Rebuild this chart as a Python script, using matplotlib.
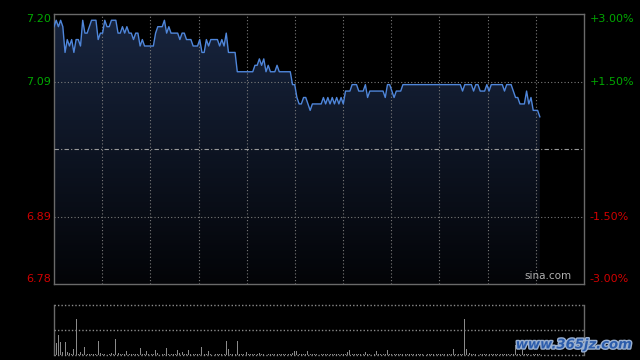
import numpy as np
import matplotlib.pyplot as plt
from matplotlib.colors import LinearSegmentedColormap
import matplotlib.patheffects as pe
import matplotlib.transforms as mtransforms

# intraday prices, one per minute
price = [7.18, 7.19, 7.18, 7.19, 7.18, 7.14, 7.16, 7.15, 7.16, 7.14,
         7.16, 7.16, 7.15, 7.19, 7.17, 7.17, 7.18, 7.19, 7.19, 7.19,
         7.16, 7.17, 7.17, 7.19, 7.18, 7.18, 7.19, 7.19, 7.19, 7.17,
         7.17, 7.18, 7.17, 7.18, 7.17, 7.17, 7.16, 7.17, 7.17, 7.15,
         7.16, 7.15, 7.15, 7.15, 7.15, 7.15, 7.17, 7.18, 7.18, 7.18,
         7.19, 7.17, 7.18, 7.17, 7.17, 7.17, 7.17, 7.16, 7.17, 7.17,
         7.16, 7.16, 7.16, 7.15, 7.15, 7.15, 7.16, 7.14, 7.14, 7.16,
         7.15, 7.16, 7.16, 7.16, 7.16, 7.15, 7.16, 7.15, 7.17, 7.14,
         7.14, 7.14, 7.14, 7.11, 7.11, 7.11, 7.11, 7.11, 7.11, 7.11,
         7.11, 7.12, 7.12, 7.13, 7.12, 7.13, 7.11, 7.12, 7.11, 7.11,
         7.11, 7.12, 7.11, 7.11, 7.11, 7.11, 7.11, 7.11, 7.09, 7.09,
         7.07, 7.06, 7.06, 7.07, 7.07, 7.06, 7.05, 7.06, 7.06, 7.06,
         7.06, 7.06, 7.07, 7.06, 7.07, 7.06, 7.07, 7.06, 7.07, 7.06,
         7.07, 7.06, 7.08, 7.08, 7.08, 7.09, 7.09, 7.09, 7.08, 7.08,
         7.08, 7.09, 7.07, 7.08, 7.08, 7.08, 7.08, 7.08, 7.08, 7.08,
         7.07, 7.09, 7.09, 7.08, 7.07, 7.08, 7.08, 7.08, 7.09, 7.09,
         7.09, 7.09, 7.09, 7.09, 7.09, 7.09, 7.09, 7.09, 7.09, 7.09,
         7.09, 7.09, 7.09, 7.09, 7.09, 7.09, 7.09, 7.09, 7.09, 7.09,
         7.09, 7.09, 7.09, 7.09, 7.09, 7.08, 7.09, 7.09, 7.09, 7.09,
         7.08, 7.09, 7.09, 7.08, 7.08, 7.08, 7.09, 7.08, 7.09, 7.09,
         7.09, 7.09, 7.09, 7.09, 7.08, 7.09, 7.09, 7.09, 7.08, 7.07,
         7.07, 7.06, 7.06, 7.06, 7.08, 7.06, 7.07, 7.05, 7.05, 7.05,
         7.04]

volume = [100, 25, 40, 27, 6, 27, 7, 5, 3, 12,
          72, 3, 7, 3, 17, 3, 2, 3, 2, 3,
          29, 4, 2, 3, 2, 3, 4, 2, 32, 4,
          3, 2, 3, 9, 2, 3, 2, 3, 2, 15,
          3, 2, 8, 3, 2, 3, 10, 4, 7, 3,
          2, 15, 3, 2, 3, 2, 10, 4, 6, 3,
          2, 10, 3, 2, 3, 2, 3, 17, 3, 2,
          8, 3, 2, 3, 2, 3, 2, 3, 29, 12,
          3, 2, 3, 29, 3, 2, 3, 7, 2, 3,
          2, 3, 2, 4, 2, 3, 2, 3, 2, 3,
          2, 3, 2, 3, 2, 3, 2, 3, 4, 9,
          9, 3, 2, 3, 2, 9, 3, 2, 3, 2,
          3, 2, 3, 2, 3, 2, 3, 2, 3, 2,
          3, 2, 3, 7, 10, 3, 2, 3, 2, 3,
          2, 6, 3, 2, 3, 2, 8, 3, 2, 3,
          2, 10, 3, 2, 3, 2, 3, 2, 3, 2,
          3, 2, 3, 2, 3, 2, 3, 2, 3, 2,
          3, 2, 3, 2, 3, 2, 3, 2, 3, 2,
          3, 12, 3, 2, 3, 2, 73, 13, 4, 2,
          3, 2, 3, 2, 3, 2, 3, 2, 3, 2,
          3, 2, 3, 2, 3, 2, 3, 2, 3, 20,
          3, 2, 10, 3, 2, 3, 2, 3, 2, 3,
          2]

prev_close = 6.99
left_labels = ['7.20', '7.09', '6.89', '6.78']
right_labels = ['+3.00%', '+1.50%', '-1.50%', '-3.00%']
pct_levels = [0.03, 0.015, -0.015, -0.03]

n_slots = 240
x = np.arange(len(price))
ymax = prev_close * 1.03
ymin = prev_close * 0.97

fig = plt.figure(figsize=(6.4, 3.6), dpi=100, facecolor='black')
ax = fig.add_axes([54 / 640, 1 - 284 / 360, 530 / 640, 270 / 360])
ax.set_facecolor('black')

# gradient fill under the price line
poly = ax.fill_between(x, price, ymin, color='none', lw=0)
cmap = LinearSegmentedColormap.from_list('g', ['#030407', '#18253f'])
grad = np.linspace(0, 1, 256).reshape(-1, 1)
im = ax.imshow(grad, extent=[0, n_slots, ymin, ymax], origin='lower',
               aspect='auto', cmap=cmap, zorder=1)
im.set_clip_path(poly.get_paths()[0], transform=ax.transData)

ax.plot(x, price, color='#4f86da', lw=1.0, zorder=4)

# grid
for k in range(1, 11):
    ax.axvline(n_slots * k / 11, color='#7a7a7a', lw=0.8, ls=(0, (1, 2)), zorder=3)
for p in [0.015, -0.015]:
    ax.axhline(prev_close * (1 + p), color='#7a7a7a', lw=0.8, ls=(0, (1, 2)), zorder=3)
ax.axhline(prev_close, color='#9a9a9a', lw=0.8, ls=(0, (4, 2, 1, 2)), zorder=3)

ax.set_xlim(0, n_slots)
ax.set_ylim(ymin, ymax)
ax.set_xticks([])
ax.set_yticks([])
for s in ax.spines.values():
    s.set_color('#6a6a6a')
    s.set_linewidth(1)

trans = mtransforms.blended_transform_factory(ax.transAxes, ax.transData)
vas = ['top', 'center', 'center', 'bottom']
for lab, rl, p, va in zip(left_labels, right_labels, pct_levels, vas):
    col = '#00a800' if p > 0 else '#d00000'
    yv = prev_close * (1 + p)
    ax.text(-0.006, yv, lab, transform=trans, ha='right', va=va,
            color=col, fontsize=8)
    ax.text(1.011, yv, rl, transform=trans, ha='left', va=va,
            color=col, fontsize=8)

ax.text(0.977, 0.01, 'sina.com', transform=ax.transAxes, ha='right',
        va='bottom', color='#b0b0b0', fontsize=7.5, zorder=5)

# volume panel
axv = fig.add_axes([54 / 640, 1 - 355 / 360, 530 / 640, 50 / 360])
axv.set_facecolor('black')
axv.bar(x, volume, width=0.45, color='#8a8a8a', zorder=2)
vmax = max(volume)
axv.set_xlim(0, n_slots)
axv.set_ylim(0, vmax)
for yv in [0, vmax / 2, vmax]:
    axv.axhline(yv, color='#8a8a8a', lw=1, ls=(0, (1, 1.5)), zorder=3,
                clip_on=False)
axv.set_xticks([])
axv.set_yticks([])
for side in ['top', 'bottom']:
    axv.spines[side].set_visible(False)
for side in ['left', 'right']:
    axv.spines[side].set_color('#6a6a6a')
    axv.spines[side].set_linewidth(1)

fig.text(0.988, 0.042, 'www.365jz.com', ha='right', va='center',
         color='#2b5cab', fontsize=9.5, fontweight='bold', style='italic',
         path_effects=[pe.withStroke(linewidth=2, foreground='#9ab0d0')])

fig.savefig('out.png', dpi=100, facecolor='black')
